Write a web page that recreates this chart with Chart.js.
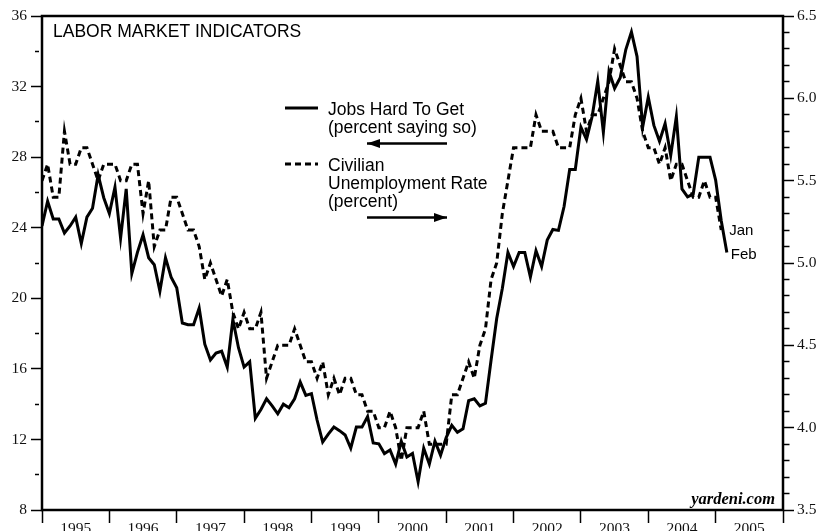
<!DOCTYPE html>
<html>
<head>
<meta charset="utf-8">
<script src="https://cdn.jsdelivr.net/npm/chart.js@4.4.1/dist/chart.umd.min.js"></script>
<style>
  html, body { margin: 0; padding: 0; background: #fff; }
  canvas { display: block; }
</style>
</head>
<body>
<canvas id="laborChart" width="817" height="531"></canvas>
<script>
// monthly points, index 0 = Dec 1994
const years = ['1995', '1996', '1997', '1998', '1999', '2000', '2001', '2002', '2003', '2004', '2005'];

// Jobs Hard To Get (percent saying so), Dec 1994 .. Feb 2005
const jobsHardToGet = [
  24.1,
  25.5, 24.5, 24.5, 23.7, 24.1, 24.6, 23.1, 24.6, 25.1, 27.0, 25.7, 24.8,
  26.3, 23.4, 26.2, 21.4, 22.6, 23.6, 22.3, 21.9, 20.4, 22.3, 21.2, 20.6,
  18.6, 18.5, 18.5, 19.45, 17.4, 16.5, 16.9, 17.0, 16.1, 18.8, 17.2, 16.1,
  16.4, 13.2, 13.7, 14.3, 13.9, 13.45, 14.0, 13.8, 14.3, 15.25, 14.5, 14.6,
  13.1, 11.85, 12.3, 12.7, 12.5, 12.25, 11.5, 12.7, 12.7, 13.3, 11.8, 11.75,
  11.2, 11.4, 10.6, 11.9, 11.0, 11.2, 9.6, 11.5, 10.6, 11.9, 11.1, 12.1,
  12.8, 12.4, 12.6, 14.2, 14.3, 13.9, 14.05, 16.5, 18.85, 20.55, 22.6, 21.8,
  22.6, 22.6, 21.2, 22.7, 21.8, 23.3, 23.9, 23.85, 25.2, 27.3, 27.3, 29.7,
  29.0, 30.3, 32.3, 29.4, 32.85, 31.9, 32.5, 34.1, 35.1, 33.7, 29.7, 31.4,
  29.8, 28.9, 29.9, 28.1, 30.3, 26.2, 25.75, 25.9, 28.0, 28.0, 28.0, 26.7,
  24.4, 22.6
];

// Civilian unemployment rate (percent), Dec 1994 .. Jan 2005
const unemploymentRate = [
  5.5,
  5.6, 5.4, 5.4, 5.8, 5.6, 5.6, 5.7, 5.7, 5.6, 5.5, 5.6, 5.6,
  5.6, 5.5, 5.5, 5.6, 5.6, 5.3, 5.5, 5.1, 5.2, 5.2, 5.4, 5.4,
  5.3, 5.2, 5.2, 5.1, 4.9, 5.0, 4.9, 4.8, 4.9, 4.7, 4.6, 4.7,
  4.6, 4.6, 4.7, 4.3, 4.4, 4.5, 4.5, 4.5, 4.6, 4.5, 4.4, 4.4,
  4.3, 4.4, 4.2, 4.3, 4.2, 4.3, 4.3, 4.2, 4.2, 4.1, 4.1, 4.0,
  4.0, 4.1, 4.0, 3.8, 4.0, 4.0, 4.0, 4.1, 3.9, 3.9, 3.9, 3.9,
  4.2, 4.2, 4.3, 4.4, 4.3, 4.5, 4.6, 4.9, 5.0, 5.3, 5.5, 5.7,
  5.7, 5.7, 5.7, 5.9, 5.8, 5.8, 5.8, 5.7, 5.7, 5.7, 5.9, 6.0,
  5.8, 5.9, 5.9, 6.0, 6.1, 6.3, 6.2, 6.1, 6.1, 6.0, 5.8, 5.7,
  5.7, 5.6, 5.7, 5.5, 5.6, 5.6, 5.5, 5.4, 5.4, 5.5, 5.4, 5.4,
  5.2
];

const leftLabels = [8, 12, 16, 20, 24, 28, 32, 36];
const rightLabels = [3.5, 4.0, 4.5, 5.0, 5.5, 6.0, 6.5];

const isLeftMajor = v => leftLabels.includes(v);
const isRightMajor = v => rightLabels.some(r => Math.abs(r - v) < 1e-6);

const tickFont = { family: '"Liberation Serif", "Times New Roman", serif', size: 15.5 };
const sans = '"Liberation Sans", Arial, sans-serif';

function arrow(ctx, x1, x2, y, dir) {
  ctx.beginPath();
  ctx.lineWidth = 2.5;
  ctx.moveTo(x1, y);
  ctx.lineTo(x2, y);
  ctx.stroke();
  const tip = dir < 0 ? x1 : x2;
  ctx.beginPath();
  ctx.moveTo(tip, y);
  ctx.lineTo(tip - dir * 13, y - 4.5);
  ctx.lineTo(tip - dir * 13, y + 4.5);
  ctx.closePath();
  ctx.fill();
}

const annotations = {
  id: 'annotations',
  afterDraw(chart) {
    const { ctx, chartArea: a, scales } = chart;
    ctx.save();
    ctx.strokeStyle = '#000';
    ctx.fillStyle = '#000';
    ctx.lineWidth = 2.5;
    ctx.strokeRect(a.left, a.top, a.right - a.left, a.bottom - a.top);

    ctx.font = '17.5px ' + sans;
    ctx.textBaseline = 'alphabetic';
    ctx.fillText('LABOR MARKET INDICATORS', 53, 37);

    // legend
    ctx.lineWidth = 3;
    ctx.beginPath();
    ctx.moveTo(285, 108);
    ctx.lineTo(318, 108);
    ctx.stroke();
    ctx.setLineDash([6, 4]);
    ctx.beginPath();
    ctx.moveTo(285, 164);
    ctx.lineTo(318, 164);
    ctx.stroke();
    ctx.setLineDash([]);

    ctx.fillText('Jobs Hard To Get', 328, 115);
    ctx.fillText('(percent saying so)', 328, 133);
    ctx.fillText('Civilian', 328, 171);
    ctx.fillText('Unemployment Rate', 328, 189);
    ctx.fillText('(percent)', 328, 207);

    arrow(ctx, 367, 447, 143.5, -1);
    arrow(ctx, 367, 447, 217.5, 1);

    // end labels
    ctx.font = '15px ' + sans;
    ctx.textBaseline = 'middle';
    const xs = scales.x, yl = scales.y, yr = scales.y1;
    const lastU = unemploymentRate.length - 1;
    const lastJ = jobsHardToGet.length - 1;
    ctx.fillText('Jan', xs.getPixelForValue(lastU) + 8, yr.getPixelForValue(unemploymentRate[lastU]) + 1);
    ctx.fillText('Feb', xs.getPixelForValue(lastJ) + 4, yl.getPixelForValue(jobsHardToGet[lastJ]) + 2);

    ctx.font = 'italic bold 16.5px "Liberation Serif", "Times New Roman", serif';
    ctx.textAlign = 'right';
    ctx.textBaseline = 'alphabetic';
    ctx.fillText('yardeni.com', a.right - 8, a.bottom - 6);
    ctx.restore();
  }
};

const ctx = document.getElementById('laborChart').getContext('2d');
const laborChart = new Chart(ctx, {
  type: 'line',
  data: {
    datasets: [
      {
        label: 'Jobs Hard To Get',
        data: jobsHardToGet.map((v, i) => ({ x: i, y: v })),
        yAxisID: 'y',
        borderColor: '#000',
        borderWidth: 3,
        pointRadius: 0,
        tension: 0,
        fill: false
      },
      {
        label: 'Civilian Unemployment Rate',
        data: unemploymentRate.map((v, i) => ({ x: i, y: v })),
        yAxisID: 'y1',
        borderColor: '#000',
        borderWidth: 3,
        borderDash: [6, 4],
        pointRadius: 0,
        tension: 0,
        fill: false
      }
    ]
  },
  options: {
    responsive: false,
    animation: false,
    layout: { padding: { top: 16, left: 0, right: 0, bottom: 0 } },
    plugins: {
      legend: { display: false },
      tooltip: { enabled: false }
    },
    scales: {
      x: {
        type: 'linear',
        min: 0,
        max: 132,
        afterFit: s => { s.height = 21; },
        border: { display: false },
        grid: {
          drawOnChartArea: false,
          tickLength: 13,
          tickWidth: 1.5,
          tickColor: c => (c.tick && c.tick.value % 12 === 0) ? '#000' : 'rgba(0,0,0,0)'
        },
        ticks: {
          stepSize: 6,
          autoSkip: false,
          maxRotation: 0,
          padding: -3,
          color: '#111',
          font: tickFont,
          callback: v => (v % 12 === 6 ? years[(v - 6) / 12] : '')
        }
      },
      y: {
        position: 'left',
        min: 8,
        max: 36,
        afterFit: s => { s.width = 42; },
        border: { display: false },
        grid: {
          drawOnChartArea: false,
          tickLength: 11,
          tickWidth: 1.5,
          tickColor: '#000',
          tickBorderDash: c => (c.tick && isLeftMajor(c.tick.value)) ? [] : [4, 7],
          tickBorderDashOffset: c => (c.tick && isLeftMajor(c.tick.value)) ? 0 : 7
        },
        ticks: {
          stepSize: 2,
          autoSkip: false,
          padding: 4,
          color: '#111',
          font: tickFont,
          callback: v => (isLeftMajor(v) ? String(v) : '')
        }
      },
      y1: {
        position: 'right',
        min: 3.5,
        max: 6.5,
        afterFit: s => { s.width = 34; },
        border: { display: false },
        grid: {
          drawOnChartArea: false,
          tickLength: 11,
          tickWidth: 1.5,
          tickColor: '#000',
          tickBorderDash: c => (c.tick && isRightMajor(c.tick.value)) ? [] : [6.5, 10]
        },
        ticks: {
          stepSize: 0.1,
          autoSkip: false,
          padding: 3,
          color: '#111',
          font: tickFont,
          callback: v => (isRightMajor(v) ? v.toFixed(1) : '')
        }
      }
    }
  },
  plugins: [annotations]
});
</script>
</body>
</html>
